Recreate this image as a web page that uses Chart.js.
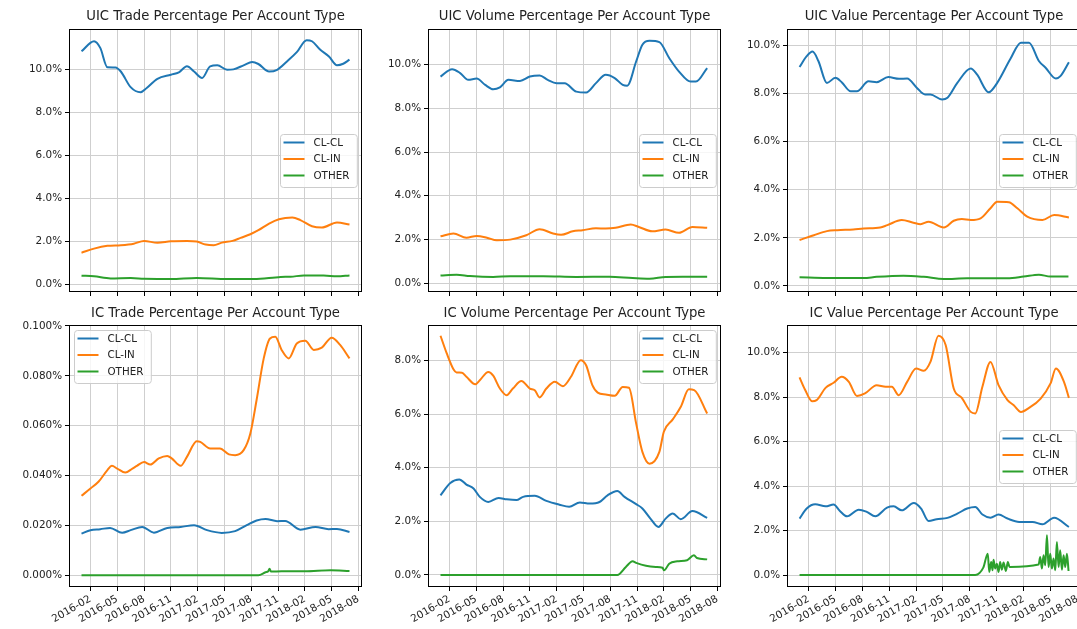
<!DOCTYPE html>
<html>
<head>
<meta charset="utf-8">
<script src="https://cdn.jsdelivr.net/npm/chart.js@4.4.0/dist/chart.umd.min.js"></script>
<style>
  html, body { margin: 0; padding: 0; background: #fff; overflow: hidden; }
  #fig { position: relative; width: 1077px; height: 629px; overflow: hidden; background: #fff; }
  #fig canvas { position: absolute; }
</style>
</head>
<body>
<div id="fig"></div>
<script>
// x values are months counted from 2016-01 (0 = 2016-01, 30 = 2018-07)
const seriesNames = ["CL-CL", "CL-IN", "OTHER"];
const seriesColors = ["#1f77b4", "#ff7f0e", "#2ca02c"];

const xTickMonths = [1, 4, 7, 10, 13, 16, 19, 22, 25, 28, 31];
const xTickLabels = ["2016-02", "2016-05", "2016-08", "2016-11", "2017-02", "2017-05",
                     "2017-08", "2017-11", "2018-02", "2018-05", "2018-08"];

const pctTicks10 = [0, 2, 4, 6, 8, 10];
const pctTicks8 = [0, 2, 4, 6, 8];
const pctTicksSmall = [0, 0.02, 0.04, 0.06, 0.08, 0.1];

// UIC Trade
const uicTradeClcl = [[0,10.84],[1.4,11.31],[2.1,11.0],[2.9,10.1],[3.8,10.09],[4.4,9.9],[5.5,9.17],[6.6,8.93],[7.3,9.13],[8.5,9.56],[10.0,9.75],[10.9,9.86],[11.8,10.14],[12.6,9.9],[13.5,9.6],[14.4,10.14],[15.2,10.19],[16.3,9.98],[17.0,10.0],[18.2,10.2],[19.1,10.34],[19.8,10.25],[21.0,9.9],[21.9,9.98],[23.0,10.37],[24.1,10.8],[25.2,11.36],[25.8,11.31],[26.7,10.92],[27.7,10.6],[28.6,10.19],[29.3,10.26],[30.0,10.45]];
const uicTradeClin = [[0,1.46],[1.4,1.65],[2.9,1.78],[4.4,1.81],[5.85,1.88],[7.0,2.01],[8.5,1.92],[10.0,1.99],[11.8,2.01],[12.9,1.98],[13.9,1.84],[14.8,1.81],[15.7,1.93],[16.9,2.01],[17.8,2.15],[18.9,2.32],[19.8,2.51],[21.0,2.82],[22.1,3.02],[23.6,3.1],[24.5,2.98],[25.8,2.69],[26.9,2.63],[28.6,2.87],[30.0,2.77]];
const uicTradeOther = [[0,0.39],[1.4,0.36],[3.25,0.26],[5.5,0.28],[7.0,0.25],[10.0,0.23],[12.9,0.28],[16.3,0.23],[19.3,0.23],[22.3,0.33],[23.4,0.34],[24.9,0.4],[27.1,0.4],[28.6,0.36],[30.0,0.4]];

// UIC Volume
const uicVolumeClcl = [[0,9.46],[1.3,9.8],[2.2,9.62],[3.1,9.31],[4.05,9.37],[5.0,9.08],[5.9,8.88],[6.65,8.97],[7.6,9.31],[8.9,9.26],[10.0,9.46],[11.1,9.51],[12.0,9.31],[13.0,9.16],[13.9,9.16],[15.2,8.77],[16.3,8.73],[17.4,9.16],[18.5,9.54],[19.5,9.39],[20.4,9.08],[20.9,9.04],[21.9,10.15],[22.6,10.92],[23.4,11.1],[24.5,11.04],[25.6,10.31],[26.7,9.69],[28.0,9.23],[28.6,9.23],[29.85,9.85]];
const uicVolumeClin = [[0,2.14],[1.45,2.27],[2.9,2.08],[4.05,2.16],[5.2,2.08],[6.3,1.96],[7.8,1.99],[9.6,2.19],[11.1,2.47],[12.6,2.27],[13.5,2.21],[14.8,2.37],[15.9,2.42],[17.4,2.51],[18.5,2.5],[19.6,2.53],[21.3,2.68],[22.2,2.57],[23.7,2.37],[25.2,2.45],[26.7,2.3],[28.2,2.57],[29.85,2.53]];
const uicVolumeOther = [[0,0.35],[1.8,0.38],[3.3,0.32],[5.9,0.28],[7.8,0.31],[11.5,0.31],[15.2,0.28],[18.9,0.29],[21.5,0.23],[23.4,0.2],[25.2,0.28],[27.1,0.29],[29.85,0.29]];

// UIC Value
const uicValueClcl = [[0,9.1],[0.8,9.55],[1.45,9.74],[2.1,9.35],[3.05,8.44],[4.0,8.65],[4.7,8.47],[5.7,8.09],[6.4,8.09],[7.7,8.51],[8.6,8.47],[9.9,8.68],[11.1,8.61],[12.0,8.62],[13.1,8.23],[14.0,7.96],[14.6,7.96],[15.9,7.75],[16.5,7.82],[17.6,8.44],[19.1,9.04],[19.8,8.79],[21.1,8.05],[22.05,8.44],[23.5,9.42],[24.7,10.11],[25.6,10.11],[26.7,9.35],[27.45,9.07],[28.6,8.62],[29.1,8.72],[30.05,9.3]];
const uicValueClin = [[0,1.91],[1.6,2.11],[3.05,2.28],[4.2,2.32],[6.0,2.35],[7.15,2.39],[9.0,2.43],[9.8,2.53],[11.4,2.74],[12.7,2.63],[13.5,2.57],[14.4,2.67],[16.1,2.43],[17.2,2.71],[18.1,2.78],[19.1,2.74],[20.2,2.81],[21.3,3.23],[22.05,3.5],[23.35,3.48],[24.3,3.23],[25.4,2.88],[27.1,2.74],[28.4,2.95],[30.05,2.85]];
const uicValueOther = [[0,0.36],[3.05,0.33],[7.15,0.33],[8.6,0.38],[11.6,0.43],[13.85,0.38],[16.1,0.29],[18.7,0.32],[23.2,0.32],[25.0,0.39],[26.7,0.47],[28.0,0.39],[30.0,0.39]];

// IC Trade
const icTradeClcl = [[0,0.0167],[1.0,0.0181],[2.1,0.0185],[3.2,0.019],[4.55,0.0171],[5.5,0.0181],[6.8,0.0194],[8.1,0.0171],[9.6,0.019],[11.1,0.0194],[12.6,0.0201],[14.05,0.0181],[15.7,0.017],[17.2,0.0177],[18.5,0.0201],[19.6,0.022],[20.6,0.0226],[21.9,0.0217],[22.8,0.0218],[24.5,0.0183],[26.2,0.0194],[27.65,0.0185],[28.6,0.0186],[30.0,0.0174]];
const icTradeClin = [[0,0.0319],[1.0,0.0348],[1.9,0.0375],[2.9,0.0422],[3.4,0.0439],[4.0,0.0428],[4.9,0.0412],[5.7,0.0428],[6.2,0.0439],[7.0,0.0454],[7.7,0.0444],[8.65,0.0469],[9.6,0.0479],[10.1,0.0469],[11.1,0.0439],[11.8,0.0475],[12.9,0.0538],[13.3,0.0535],[14.4,0.0509],[15.5,0.0509],[16.5,0.0485],[17.2,0.0482],[18.15,0.0502],[18.9,0.0569],[19.6,0.0703],[20.4,0.087],[21.1,0.095],[21.7,0.0957],[22.4,0.0904],[23.2,0.087],[24.1,0.093],[25.05,0.0941],[26.0,0.0904],[26.9,0.0913],[28.0,0.0953],[28.95,0.0924],[30.0,0.087]];
const icTradeOther = [[0,0],[19.8,0],[20.6,0.0012],[20.9,0.0016],[21.05,0.0026],[21.2,0.0015],[22.4,0.0016],[25.0,0.0016],[27.9,0.002],[30.0,0.0017]];

// IC Volume
const icVolumeClcl = [[0,2.97],[1.1,3.43],[2.1,3.56],[2.9,3.37],[3.7,3.22],[4.4,2.91],[5.35,2.72],[6.5,2.87],[7.4,2.82],[8.5,2.79],[9.25,2.91],[10.55,2.95],[11.85,2.76],[13.3,2.62],[14.4,2.54],[15.6,2.7],[16.7,2.66],[17.8,2.72],[18.7,2.97],[19.8,3.13],[20.6,2.91],[21.9,2.64],[22.6,2.48],[23.5,2.1],[24.4,1.79],[25.2,2.1],[26.0,2.29],[26.9,2.08],[28.2,2.38],[29.85,2.13]];
const icVolumeClin = [[0,8.92],[0.7,8.26],[1.45,7.67],[1.8,7.55],[2.4,7.54],[2.9,7.39],[3.9,7.11],[4.4,7.26],[5.35,7.57],[5.9,7.43],[6.65,6.95],[7.4,6.7],[8.1,6.95],[9.06,7.23],[10.0,6.95],[10.55,6.89],[11.1,6.62],[11.85,6.95],[12.8,7.2],[13.7,7.04],[14.6,7.39],[15.7,8.01],[16.3,7.82],[17.0,7.08],[17.6,6.8],[18.5,6.73],[19.5,6.68],[20.4,7.01],[21.1,6.98],[21.9,5.65],[22.6,4.59],[23.4,4.15],[24.5,4.59],[25.0,5.34],[26.0,5.8],[26.9,6.27],[27.8,6.92],[28.4,6.89],[29.85,6.02]];
const icVolumeOther = [[0,0],[19.8,0],[20.75,0.3],[21.5,0.51],[21.9,0.45],[23.0,0.34],[24.1,0.3],[24.85,0.27],[25.03,0.17],[25.6,0.42],[26.5,0.51],[27.6,0.55],[28.37,0.73],[28.7,0.63],[29.85,0.58]];

// IC Value
const icValueClcl = [[0,2.54],[0.8,2.99],[1.75,3.18],[2.9,3.09],[3.8,3.17],[4.5,2.88],[5.3,2.64],[6.6,2.94],[7.5,2.84],[8.45,2.64],[9.76,3.03],[10.5,3.09],[11.4,2.91],[12.74,3.24],[13.56,2.99],[14.4,2.43],[15.3,2.51],[16.5,2.57],[17.6,2.76],[18.7,2.99],[19.6,3.06],[20.4,2.72],[21.3,2.58],[22.2,2.72],[23.2,2.54],[24.5,2.39],[26.0,2.39],[27.1,2.28],[28.4,2.58],[30.05,2.16]];
const icValueClin = [[0,8.89],[0.6,8.35],[1.4,7.82],[1.9,7.87],[2.9,8.42],[3.8,8.65],[4.7,8.92],[5.5,8.69],[6.4,8.06],[7.3,8.17],[8.6,8.54],[9.6,8.47],[10.3,8.47],[11.06,8.09],[12.0,8.69],[13.0,9.29],[13.85,9.19],[14.6,9.59],[15.5,10.77],[16.3,10.35],[17.2,8.39],[18.1,7.97],[19.1,7.34],[19.6,7.27],[20.4,8.47],[21.3,9.59],[22.2,8.54],[23.2,7.87],[23.9,7.64],[24.7,7.34],[25.6,7.52],[26.9,7.94],[28.0,8.62],[28.6,9.29],[29.5,8.69],[30.05,7.97]];
const icValueOther = [[0,0],[19.6,0],[20.5,0.33],[21.0,0.96],[21.16,0.14],[21.38,0.59],[21.53,0.21],[21.64,0.69],[21.83,0.29],[22.01,0.51],[22.2,0.14],[22.38,0.59],[22.57,0.24],[22.76,0.56],[23.02,0.18],[23.24,0.59],[23.43,0.36],[23.5,0.36],[26.67,0.47],[26.85,0.81],[27.04,0.29],[27.22,0.89],[27.41,0.44],[27.6,1.79],[27.78,0.36],[27.97,0.96],[28.15,0.29],[28.34,0.74],[28.53,0.21],[28.71,1.49],[28.9,0.36],[29.08,1.11],[29.27,0.24],[29.46,0.89],[29.64,0.36],[29.83,0.96],[30.01,0.18]];

const panels = [
  { title: "UIC Trade Percentage Per Account Type", series: [uicTradeClcl, uicTradeClin, uicTradeOther], yTicks: pctTicks10, yMin: -0.37, yMax: 11.88, dec: 1, legend: "center right" },
  { title: "UIC Volume Percentage Per Account Type", series: [uicVolumeClcl, uicVolumeClin, uicVolumeOther], yTicks: pctTicks10, yMin: -0.41, yMax: 11.64, dec: 1, legend: "center right" },
  { title: "UIC Value Percentage Per Account Type", series: [uicValueClcl, uicValueClin, uicValueOther], yTicks: pctTicks10, yMin: -0.25, yMax: 10.68, dec: 1, legend: "center right" },
  { title: "IC Trade Percentage Per Account Type", series: [icTradeClcl, icTradeClin, icTradeOther], yTicks: pctTicksSmall, yMin: -0.0047, yMax: 0.1004, dec: 3, legend: "upper left" },
  { title: "IC Volume Percentage Per Account Type", series: [icVolumeClcl, icVolumeClin, icVolumeOther], yTicks: pctTicks8, yMin: -0.45, yMax: 9.32, dec: 1, legend: "upper right" },
  { title: "IC Value Percentage Per Account Type", series: [icValueClcl, icValueClin, icValueOther], yTicks: pctTicks10, yMin: -0.54, yMax: 11.25, dec: 1, legend: "center right" }
];

// frame (spines) + matplotlib-like legend inside the axes
const axesDecor = {
  id: "axesDecor",
  afterDraw(chart, args, opts) {
    const { ctx, chartArea: a } = chart;
    ctx.save();
    ctx.strokeStyle = "#000";
    ctx.lineWidth = 1;
    const l = Math.round(a.left), t = Math.round(a.top);
    const r = Math.round(a.right), b = Math.round(a.bottom);
    ctx.strokeRect(l + 0.5, t + 0.5, r - l - 1, b - t - 1);

    const ds = chart.data.datasets;
    ctx.font = '10.3px "DejaVu Sans"';
    const tw = Math.max(...ds.map(d => ctx.measureText(d.label).width));
    const w = 33 + tw + 8, h = 53;
    let x, y;
    if (opts.pos === "upper left") { x = a.left + 5; y = a.top + 5; }
    else if (opts.pos === "upper right") { x = a.right - 5 - w; y = a.top + 5; }
    else { x = a.right - 5 - w; y = (a.top + a.bottom) / 2 - h / 2; }
    x = Math.round(x) + 0.5; y = Math.round(y) + 0.5;
    ctx.beginPath();
    ctx.roundRect(x, y, w, h, 3);
    ctx.fillStyle = "rgba(255,255,255,0.8)";
    ctx.fill();
    ctx.strokeStyle = "#cccccc";
    ctx.stroke();
    ds.forEach((d, k) => {
      const yy = y + 8 + k * 16.5;
      ctx.strokeStyle = d.borderColor;
      ctx.lineWidth = 2;
      ctx.beginPath();
      ctx.moveTo(x + 3, yy);
      ctx.lineTo(x + 24, yy);
      ctx.stroke();
      ctx.fillStyle = "#222";
      ctx.textBaseline = "middle";
      ctx.fillText(d.label, x + 33, yy + 0.5);
    });
    ctx.restore();
  }
};

Chart.defaults.font.family = '"DejaVu Sans", sans-serif';
Chart.defaults.font.size = 10.4;
Chart.defaults.color = "#222";

const fig = document.getElementById("fig");
const colLeft = [0, 359, 718];
const colWidth = [363, 363, 364];
const rowTop = [0, 300];
const rowHeight = [300, 329];

panels.forEach((p, i) => {
  const col = i % 3, row = Math.floor(i / 3);
  const cv = document.createElement("canvas");
  cv.width = colWidth[col];
  cv.height = rowHeight[row];
  cv.style.left = colLeft[col] + "px";
  cv.style.top = rowTop[row] + "px";
  fig.appendChild(cv);

  const gridStyle = { color: "#cfcfcf", lineWidth: 1, tickColor: "#000", tickLength: 4, drawTicks: true };

  new Chart(cv, {
    type: "line",
    data: {
      datasets: p.series.map((s, k) => ({
        label: seriesNames[k],
        data: s.map(pt => ({ x: pt[0], y: pt[1] })),
        borderColor: seriesColors[k],
        backgroundColor: seriesColors[k],
        borderWidth: 2,
        pointRadius: 0,
        cubicInterpolationMode: "monotone",
        fill: false,
        order: 2 - k
      }))
    },
    options: {
      responsive: false,
      animation: false,
      devicePixelRatio: 1,
      layout: { padding: { left: 0, right: 1, top: 0, bottom: 0 } },
      scales: {
        x: {
          type: "linear",
          min: -1.4,
          max: 31.4,
          afterBuildTicks: s => { s.ticks = xTickMonths.map(v => ({ value: v })); },
          afterFit: s => { s.height = row ? 42 : 8; s.paddingLeft = 0; s.paddingRight = 0; },
          ticks: {
            display: row === 1,
            autoSkip: false,
            minRotation: 30,
            maxRotation: 30,
            padding: 2,
            callback: (v, idx) => xTickLabels[idx]
          },
          grid: gridStyle,
          border: { display: false }
        },
        y: {
          min: p.yMin,
          max: p.yMax,
          afterBuildTicks: s => { s.ticks = p.yTicks.map(v => ({ value: v })); },
          afterFit: s => { s.width = 69; s.paddingTop = 0; s.paddingBottom = 0; },
          ticks: { padding: 3, callback: v => v.toFixed(p.dec) + "%" },
          grid: gridStyle,
          border: { display: false }
        }
      },
      plugins: {
        legend: { display: false },
        tooltip: { enabled: false },
        title: {
          display: true,
          fullSize: false,
          text: p.title,
          color: "#222",
          font: { size: 13.2, weight: "normal" },
          padding: row ? { top: 5.4, bottom: 3.76 } : { top: 9.1, bottom: 4.06 }
        },
        axesDecor: { pos: p.legend }
      }
    },
    plugins: [axesDecor]
  });
});
</script>
</body>
</html>
